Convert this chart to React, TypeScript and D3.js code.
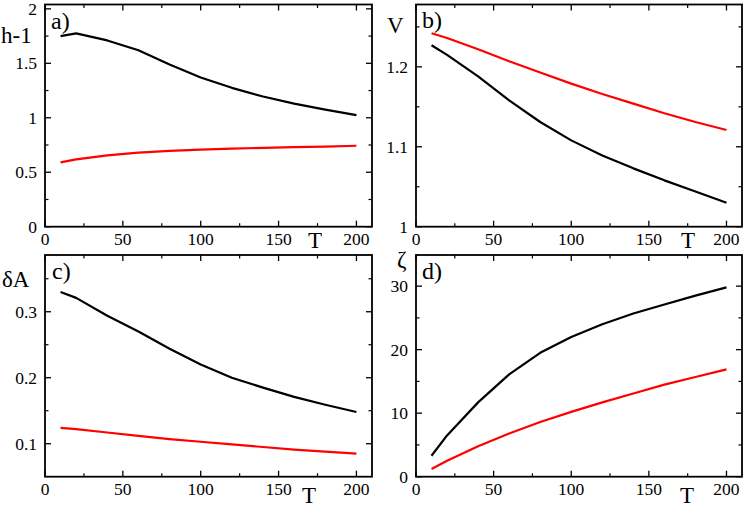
import React from "react";
import * as d3 from "d3";

const T = [10, 20, 40, 60, 80, 100, 120, 140, 160, 180, 200];

const hBlack = [1.75, 1.775, 1.71, 1.62, 1.49, 1.37, 1.275, 1.195, 1.13, 1.075, 1.025];
const hRed = [0.59, 0.618, 0.655, 0.68, 0.696, 0.708, 0.717, 0.724, 0.73, 0.736, 0.743];

const vBlack = [1.227, 1.215, 1.188, 1.158, 1.131, 1.108, 1.089, 1.073, 1.058, 1.044, 1.03];
const vRed = [1.242, 1.236, 1.222, 1.207, 1.193, 1.179, 1.166, 1.154, 1.142, 1.131, 1.121];

const aBlack = [0.33, 0.321, 0.294, 0.27, 0.244, 0.22, 0.2, 0.185, 0.171, 0.159, 0.148];
const aRed = [0.124, 0.122, 0.117, 0.112, 0.107, 0.103, 0.099, 0.095, 0.091, 0.088, 0.085];

const zBlack = [3.3, 6.5, 11.7, 16.1, 19.5, 22.0, 24.0, 25.7, 27.1, 28.5, 29.8];
const zRed = [1.2, 2.5, 4.8, 6.8, 8.6, 10.2, 11.7, 13.1, 14.5, 15.7, 16.9];

const xTicks = [0, 50, 100, 150, 200];
const xMinor = [25, 75, 125, 175];

type PanelDef = {
  left: number; right: number; top: number; bottom: number;
  yDomain: [number, number];
  yTicks: number[]; yTickLabels: string[]; yMinor: number[];
  black: number[]; red: number[];
  tag: string; tagX: number; tagY: number;
  ylab: string; ylabX: number; ylabY: number;
  tX: number; tY: number;
};

const panels: PanelDef[] = [
  {
    left: 45, right: 372, top: 4.5, bottom: 226.7, yDomain: [0, 2.04],
    yTicks: [0, 0.5, 1, 1.5, 2], yTickLabels: ["0", "0.5", "1", "1.5", "2"],
    yMinor: [0.25, 0.75, 1.25, 1.75],
    black: hBlack, red: hRed, tag: "a)", tagX: 51, tagY: 29,
    ylab: "h-1", ylabX: 1, ylabY: 43, tX: 315, tY: 248,
  },
  {
    left: 416, right: 742, top: 4.5, bottom: 226.7, yDomain: [1, 1.278],
    yTicks: [1, 1.1, 1.2], yTickLabels: ["1", "1.1", "1.2"],
    yMinor: [1.05, 1.15, 1.25],
    black: vBlack, red: vRed, tag: "b)", tagX: 422, tagY: 28,
    ylab: "V", ylabX: 387, ylabY: 33, tX: 688, tY: 248,
  },
  {
    left: 45, right: 372, top: 255, bottom: 476.7, yDomain: [0.05, 0.386],
    yTicks: [0.1, 0.2, 0.3], yTickLabels: ["0.1", "0.2", "0.3"],
    yMinor: [0.15, 0.25, 0.35],
    black: aBlack, red: aRed, tag: "c)", tagX: 52, tagY: 279,
    ylab: "δA", ylabX: 2, ylabY: 287, tX: 309, tY: 503,
  },
  {
    left: 416, right: 742, top: 255, bottom: 476.7, yDomain: [0, 34.9],
    yTicks: [0, 10, 20, 30], yTickLabels: ["0", "10", "20", "30"],
    yMinor: [5, 15, 25],
    black: zBlack, red: zRed, tag: "d)", tagX: 422, tagY: 279,
    ylab: "ζ", ylabX: 397, ylabY: 267, tX: 687, tY: 503,
  },
];

const FONT = "'Liberation Serif', 'DejaVu Serif', serif";

function Panel({ p }: { p: PanelDef }) {
  const x = d3.scaleLinear().domain([0, 210]).range([p.left, p.right]);
  const y = d3.scaleLinear().domain(p.yDomain).range([p.bottom, p.top]);
  const line = d3
    .line<number>()
    .x((_, i) => x(T[i]))
    .y((d) => y(d))
    .curve(d3.curveLinear);
  const maj = 6;
  const min = 3.5;
  return (
    <g>
      {xTicks.map((t) => (
        <g key={"xt" + t}>
          <line x1={x(t)} x2={x(t)} y1={p.bottom} y2={p.bottom - maj} stroke="#000" strokeWidth={1.3} />
          <line x1={x(t)} x2={x(t)} y1={p.top} y2={p.top + maj} stroke="#000" strokeWidth={1.3} />
          <text x={x(t)} y={p.bottom + 18.5} textAnchor="middle" fontSize={17.5} fontFamily={FONT}>
            {t}
          </text>
        </g>
      ))}
      {xMinor.map((t) => (
        <g key={"xm" + t}>
          <line x1={x(t)} x2={x(t)} y1={p.bottom} y2={p.bottom - min} stroke="#000" strokeWidth={1.2} />
          <line x1={x(t)} x2={x(t)} y1={p.top} y2={p.top + min} stroke="#000" strokeWidth={1.2} />
        </g>
      ))}
      {p.yTicks.map((t, i) => (
        <g key={"yt" + t}>
          <line x1={p.left} x2={p.left + maj} y1={y(t)} y2={y(t)} stroke="#000" strokeWidth={1.3} />
          <line x1={p.right} x2={p.right - maj} y1={y(t)} y2={y(t)} stroke="#000" strokeWidth={1.3} />
          <text x={p.left - 8} y={y(t) + 6} textAnchor="end" fontSize={17.5} fontFamily={FONT}>
            {p.yTickLabels[i]}
          </text>
        </g>
      ))}
      {p.yMinor.map((t) => (
        <g key={"ym" + t}>
          <line x1={p.left} x2={p.left + min} y1={y(t)} y2={y(t)} stroke="#000" strokeWidth={1.2} />
          <line x1={p.right} x2={p.right - min} y1={y(t)} y2={y(t)} stroke="#000" strokeWidth={1.2} />
        </g>
      ))}
      <path d={line(p.red) || ""} fill="none" stroke="#ff0000" strokeWidth={2.2} strokeLinejoin="round" />
      <path d={line(p.black) || ""} fill="none" stroke="#000" strokeWidth={2.2} strokeLinejoin="round" />
      <rect
        x={p.left}
        y={p.top}
        width={p.right - p.left}
        height={p.bottom - p.top}
        fill="none"
        stroke="#000"
        strokeWidth={1.8}
      />
      <text x={p.tagX} y={p.tagY} fontSize={24} fontFamily={FONT}>
        {p.tag}
      </text>
      <text x={p.ylabX} y={p.ylabY} fontSize={23} fontFamily={FONT}>
        {p.ylab}
      </text>
      <text x={p.tX} y={p.tY} textAnchor="middle" fontSize={23} fontFamily={FONT}>
        T
      </text>
    </g>
  );
}

export default function App() {
  return (
    <svg
      width={747}
      height={508}
      style={{ position: "absolute", left: 0, top: 0, background: "#fff" }}
    >
      <rect width={747} height={508} fill="#fff" />
      {panels.map((p, i) => (
        <Panel key={i} p={p} />
      ))}
    </svg>
  );
}
